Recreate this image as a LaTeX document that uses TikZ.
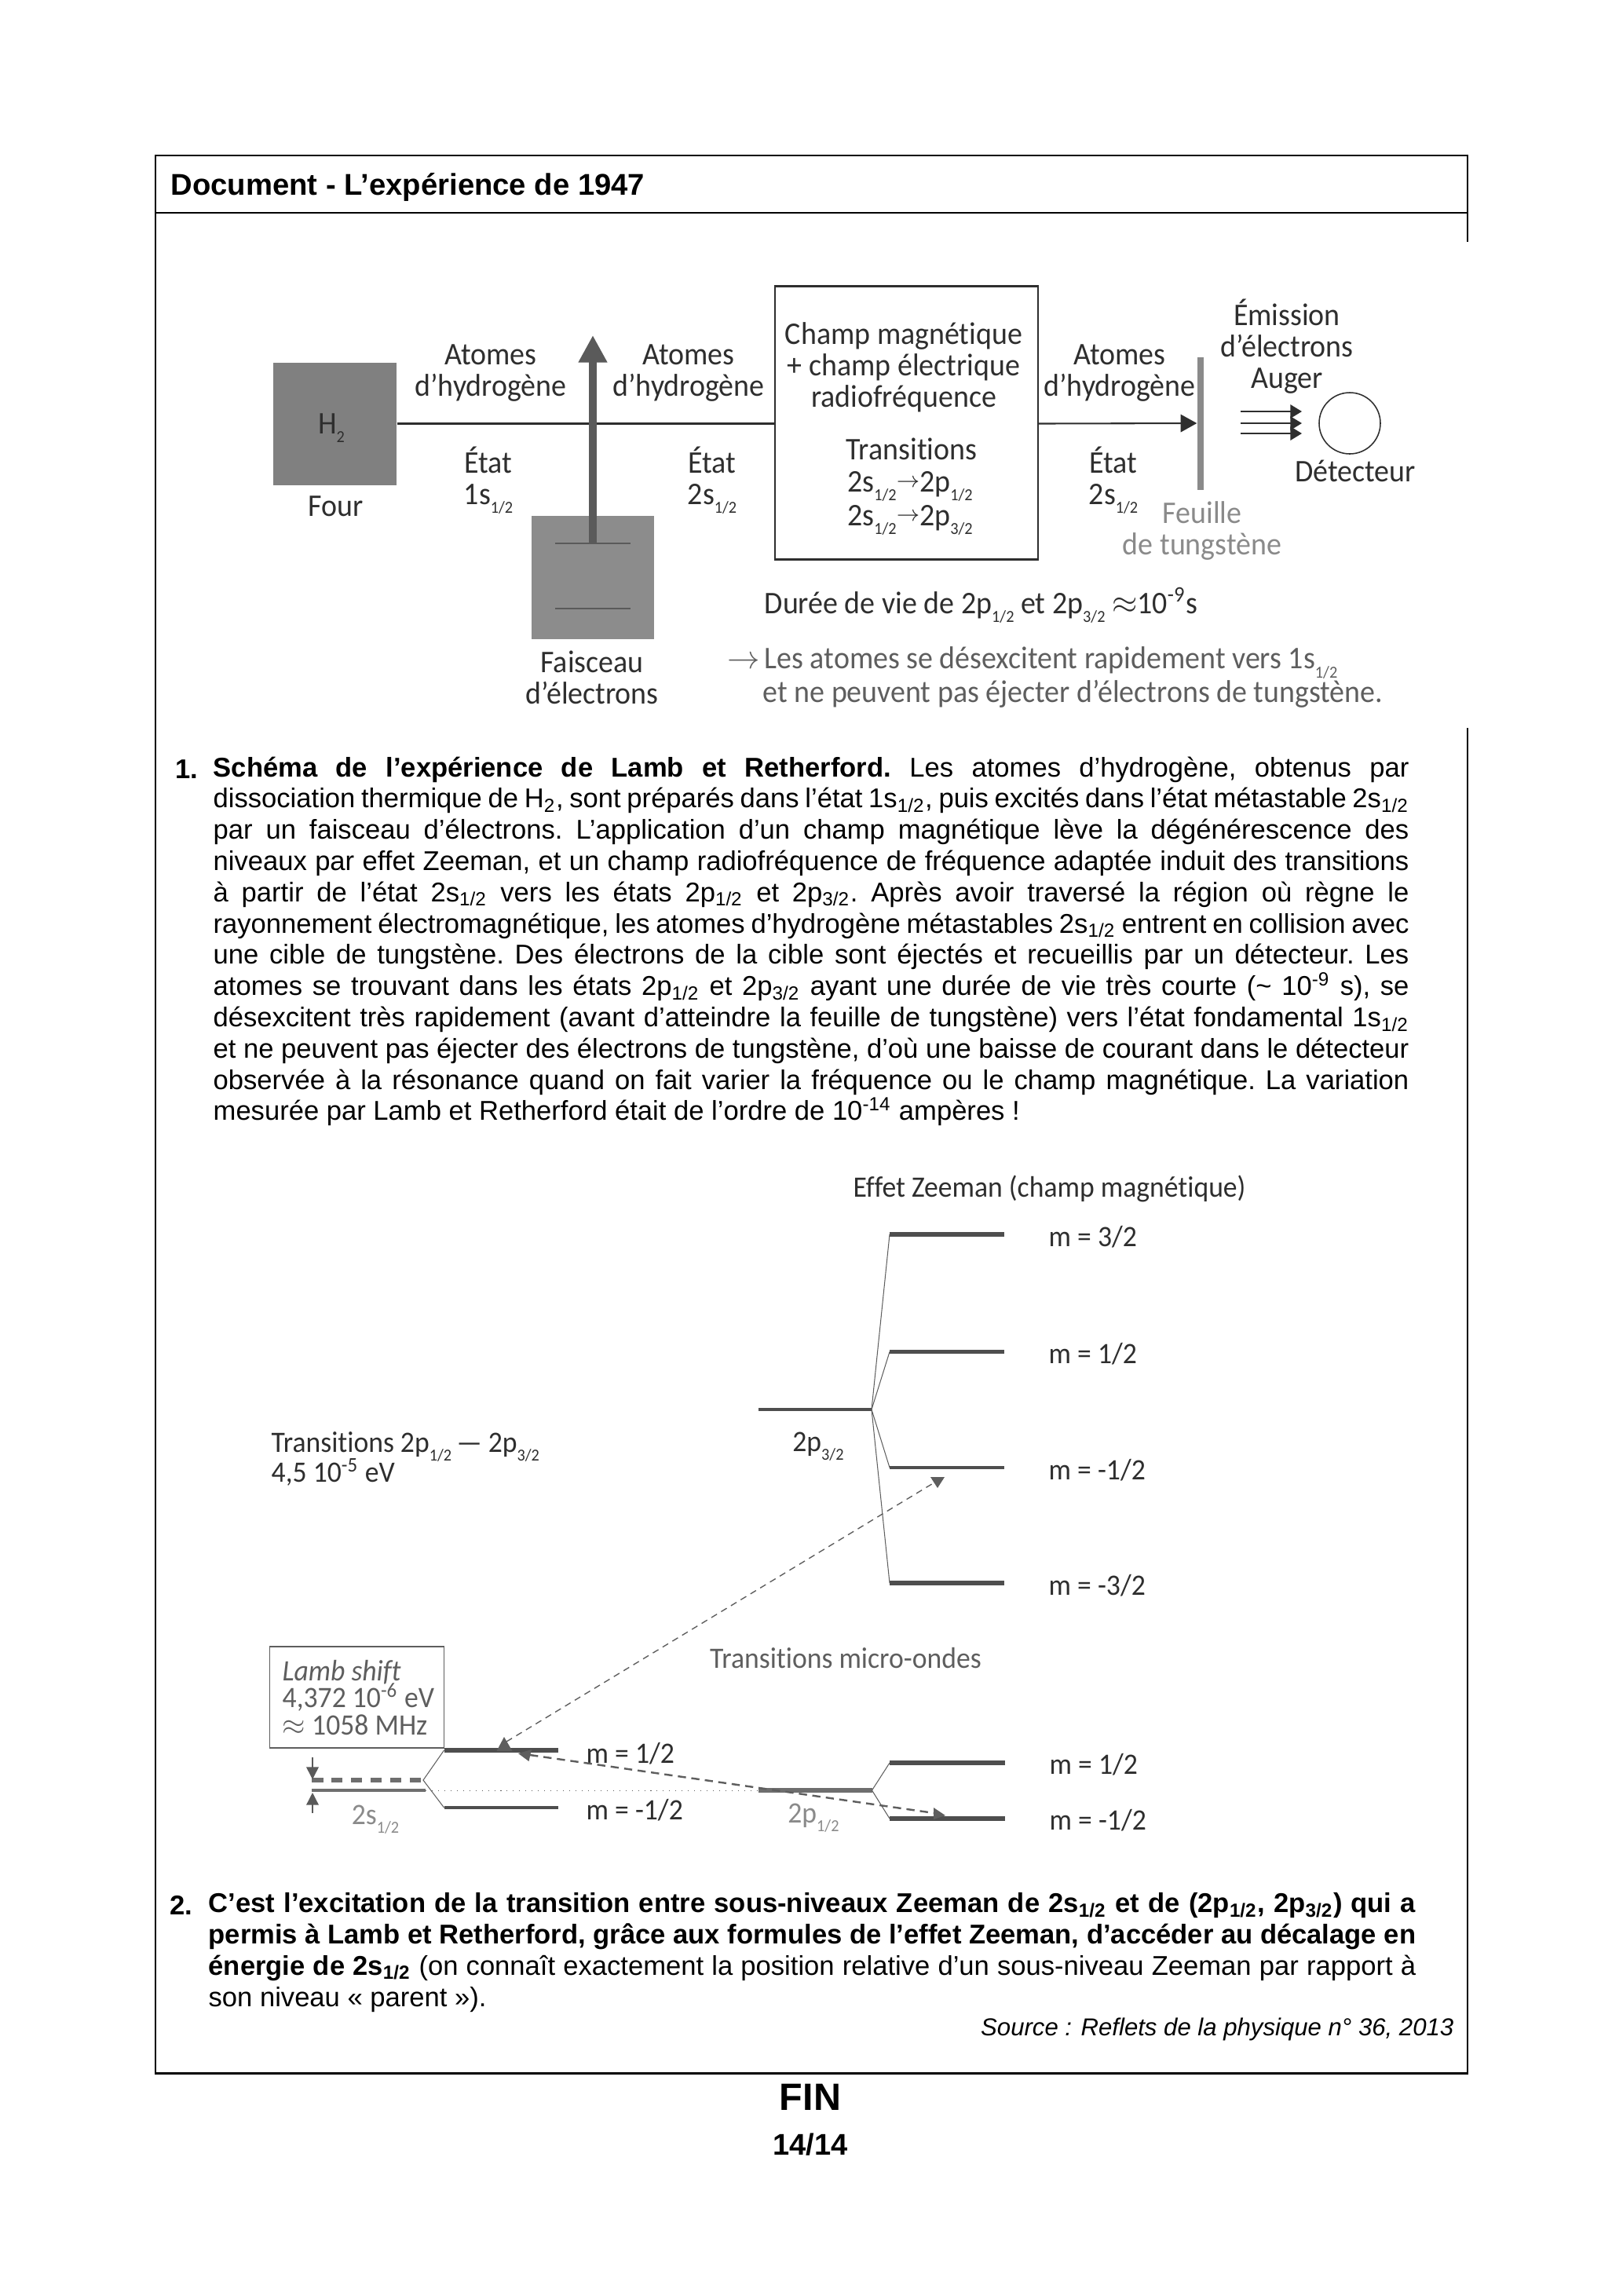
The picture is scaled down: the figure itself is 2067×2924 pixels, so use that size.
\documentclass[tikz,border=0pt]{standalone}
\usepackage{fontspec}
\setmainfont{Liberation Sans}
\newfontfamily\figfont[FakeStretch=0.945,Ligatures=NoCommon]{Carlito}
\usetikzlibrary{arrows.meta}
\definecolor{ink}{HTML}{2E2E2E}
\definecolor{softink}{HTML}{5E5E5E}
\definecolor{paleink}{HTML}{8A8A8A}
\definecolor{ovengray}{HTML}{808080}
\definecolor{beamgray}{HTML}{8C8C8C}
\definecolor{plategray}{HTML}{5A5A5A}
\definecolor{levelgray}{HTML}{4E4E4E}
\newcommand{\pu}{0.1016mm}
\newcommand{\fsb}[1]{\raisebox{-3.2pt}{\fontsize{6.2}{7}\selectfont #1}}
\newcommand{\tsb}[1]{\textsubscript{#1}}
\newcommand{\trarrow}{\raisebox{1.5pt}{$\scriptstyle\rightarrow$}}
\tikzset{
  frameline/.style={draw=black, line width=0.85pt},
  figtxt/.style={font=\figfont\fontsize{11.6}{11.5}\selectfont, text=ink, inner sep=0pt, align=center},
  figgray/.style={figtxt, text=softink},
  figpale/.style={figtxt, text=paleink},
  lowtxt/.style={font=\figfont\fontsize{10.9}{11.5}\selectfont, text=ink, inner sep=0pt, align=center},
  lowgray/.style={lowtxt, text=softink},
  lowpale/.style={lowtxt, text=paleink},
  mlabel/.style={lowtxt, anchor=west},
  para/.style={font=\fontsize{10}{11.5}\selectfont\frenchspacing, inner sep=0pt, anchor=north west, align=justify},
  paranum/.style={font=\bfseries\fontsize{10}{11.5}\selectfont, inner sep=0pt, anchor=north west},
  thinline/.style={draw=ink, line width=0.6pt},
  level/.style={draw=levelgray, line width=1.4pt},
  fanline/.style={draw=softink, line width=0.3pt},
  micro/.style={draw=softink, dash pattern=on 2.4pt off 1.8pt, line width=0.4pt},
  microhead/.style={fill=softink},
}

\begin{document}
\begin{tikzpicture}[x=\pu, y=-\pu]
  \useasboundingbox (0,0) rectangle (2067,2924);

  % cadre du document
  \draw[frameline] (1869,308) -- (1869,198) -- (198,198) -- (198,2640) -- (1869,2640) -- (1869,927);
  \draw[frameline] (198,271) -- (1869,271);
  \node[font=\bfseries\fontsize{11.05}{12}\selectfont, inner sep=0pt, anchor=base west] (title) at (217,248)
      {Document - L’expérience de 1947};

  % schema de l'experience
  \node[fill=ovengray, minimum width=157*\pu, minimum height=156*\pu, inner sep=0pt] (oven) at (426.5,539.5) {};
  \node[fill=beamgray, minimum width=156*\pu, minimum height=157*\pu, inner sep=0pt] (gun) at (755,735.5) {};
  \node[draw=ink, line width=0.6pt, minimum width=335*\pu, minimum height=348*\pu, inner sep=0pt] (field) at (1154.5,538.5) {};
  \node[fill=paleink, minimum width=8*\pu, minimum height=169*\pu, inner sep=0pt] (foil) at (1529,539) {};
  \node[draw=ink, line width=0.45pt, circle, minimum size=78*\pu, inner sep=0pt] (detector) at (1719,539) {};
  \coordinate (plateup) at (755,692);
  \coordinate (platedown) at (755,775);
  \coordinate (beamtip) at (755,427);

  \draw[thinline] (oven.east) -- (oven.east -| field.west);
  \draw[draw=ink, line width=0.6pt, -{Triangle[length=6pt,width=6.5pt]}] (oven.east -| field.east) -- (foil.west);
  \draw[draw=plategray, line width=2.9pt, -{Triangle[length=10pt,width=10pt]}] (plateup) -- (beamtip);
  \draw[draw=plategray, line width=0.8pt] ([xshift=-48*\pu]plateup) -- ([xshift=48*\pu]plateup);
  \draw[draw=plategray, line width=0.5pt] ([xshift=-48*\pu]platedown) -- ([xshift=48*\pu]platedown);
  \foreach \y in {524,539,552}
    \draw[draw=ink, line width=0.5pt, -{Triangle[length=4.2pt,width=5pt]}] (1580,\y) -- (1658,\y);

  \node[figtxt] (htwo) at (422,545) {H\fsb{2}};
  \node[figtxt] (ovenlbl) at (428,645) {Four};
  \node[figtxt] (atomsa) at (625,475) {Atomes\\d’hydrogène};
  \node[figtxt] (atomsb) at (877,475) {Atomes\\d’hydrogène};
  \node[figtxt] (atomsc) at (1426,475) {Atomes\\d’hydrogène};
  \node[figtxt] (statea) at (622,612) {État\\1s\fsb{1/2}};
  \node[figtxt] (stateb) at (907,612) {État\\2s\fsb{1/2}};
  \node[figtxt] (statec) at (1418,612) {État\\2s\fsb{1/2}};
  \node[figtxt] (gunlbl) at (754,863) {Faisceau\\d’électrons};
  \node[figtxt] (fieldlbl) at (1151,468) {Champ magnétique\\+ champ électrique\\radiofréquence};
  \node[figtxt] (translbl) at (1161,572) {Transitions};
  \node[figtxt] (transa) at (1159,619) {2s\fsb{1/2}\trarrow2p\fsb{1/2}};
  \node[figtxt] (transb) at (1159,662) {2s\fsb{1/2}\trarrow2p\fsb{3/2}};
  \node[figpale] (foillbl) at (1531,676) {Feuille\\de tungstène};
  \node[figtxt] (augerlbl) at (1639,441) {Émission\\d’électrons\\Auger};
  \node[figtxt] (detlbl) at (1726,600) {Détecteur};
  \node[figtxt, anchor=west] (lifelbl) at (973,771) {Durée de vie de 2p\fsb{1/2} et 2p\fsb{3/2} $\approx$10\textsuperscript{-9}s};
  \node[figgray, anchor=west] (decaya) at (926,844) {$\rightarrow$\hspace{1.6pt}Les atomes se désexcitent rapidement vers 1s\fsb{1/2}};
  \node[figgray, anchor=west] (decayb) at (971,884) {et ne peuvent pas éjecter d’électrons de tungstène.};

  % texte 1
  \node[paranum] (numa) at (223,967) {1.};
  \node[para, text width=154.7mm] (parta) at (271,963) {\textbf{Schéma de l’expérience de Lamb et Retherford.} Les atomes d’hydrogène, obtenus par\linebreak
    dissociation thermique de H\tsb{2}, sont préparés dans l’état 1s\tsb{1/2}, puis excités dans l’état métastable 2s\tsb{1/2}\linebreak
    par un faisceau d’électrons. L’application d’un champ magnétique lève la dégénérescence des\linebreak
    niveaux par effet Zeeman, et un champ radiofréquence de fréquence adaptée induit des transitions\linebreak
    à partir de l’état 2s\tsb{1/2} vers les états 2p\tsb{1/2} et 2p\tsb{3/2}. Après avoir traversé la région où règne le\linebreak
    rayonnement électromagnétique, les atomes d’hydrogène métastables 2s\tsb{1/2} entrent en collision avec\linebreak
    une cible de tungstène. Des électrons de la cible sont éjectés et recueillis par un détecteur. Les\linebreak
    atomes se trouvant dans les états 2p\tsb{1/2} et 2p\tsb{3/2} ayant une durée de vie très courte (\textasciitilde{} 10\textsuperscript{-9} s), se\linebreak
    désexcitent très rapidement (avant d’atteindre la feuille de tungstène) vers l’état fondamental 1s\tsb{1/2}\linebreak
    et ne peuvent pas éjecter des électrons de tungstène, d’où une baisse de courant dans le détecteur\linebreak
    observée à la résonance quand on fait varier la fréquence ou le champ magnétique. La variation\linebreak
    mesurée par Lamb et Retherford était de l’ordre de 10\textsuperscript{-14} ampères !};

  % niveaux 2p3/2
  \node[lowtxt, anchor=west] (zeemanlbl) at (1086,1514) {Effet Zeeman (champ magnétique)};
  \coordinate (pthree) at (1110,1795);
  \draw[level, line width=0.9pt] (966,1795) -- (pthree);
  \foreach \y/\th/\m in {1572/1.7pt/3{/}2, 1721.5/1.3pt/1{/}2, 1869/1.3pt/-1{/}2, 2016/2pt/-3{/}2}{
    \draw[fanline] (pthree) -- (1133,\y);
    \draw[level, line width=\th] (1133,\y) -- (1279,\y);
    \node[mlabel] at (1335,\y+3) {m = \m};
  }
  \node[lowtxt] (pthreelbl) at (1042,1842) {2p\fsb{3/2}};

  % niveaux 2s et 2p1/2
  \node[lowtxt, anchor=west] (translabel) at (345,1842) {Transitions 2p\fsb{1/2}\,— 2p\fsb{3/2}};
  \node[lowtxt, anchor=west] (ev) at (345,1875) {4,5 10\textsuperscript{-5} eV};
  \node[lowgray] (microlbl) at (1077,2112) {Transitions micro-ondes};

  \node[draw=softink, line width=0.5pt, minimum width=222*\pu, minimum height=129*\pu, inner sep=0pt] (lambbox) at (454.5,2161.5) {};
  \node[lowgray, align=left, anchor=west] (lambtxt) at (359,2162) {\textit{Lamb shift}\\[-1.5pt]4,372 10\textsuperscript{-6} eV\\[-1.5pt]$\approx$ 1058 MHz};

  \coordinate (sdash) at (539,2267);
  \coordinate (ssolid) at (542,2280);
  \coordinate (sup) at (565.5,2229);
  \coordinate (sdown) at (565.5,2302);
  \coordinate (pone) at (1110.5,2280);
  \draw[draw=softink, line width=0.3pt, dotted] (ssolid) -- (966,2280);
  \draw[fanline] (sup) -- (sdash) -- (sdown);
  \draw[draw=paleink!80!black, line width=1.6pt, dash pattern=on 4.2pt off 3pt] (397,2267) -- (sdash);
  \draw[draw=paleink!80!black, line width=1.4pt] (397,2280) -- (ssolid);
  \draw[level, line width=1.7pt] (sup) -- (711,2229);
  \draw[level] (sdown) -- (711,2302);
  \draw[draw=paleink!80!black, line width=1.7pt] (966,2280) -- (pone);
  \draw[fanline] (pone) -- (1133,2245);
  \draw[fanline] (pone) -- (1133,2316);
  \foreach \y in {2245,2316}
    \draw[level, line width=1.7pt] (1133,\y) -- (1280,\y);
  \draw[draw=plategray, line width=0.4pt, -{Triangle[length=4.5pt,width=4.5pt]}] (398,2238) -- (398,2266);
  \draw[draw=plategray, line width=0.4pt, -{Triangle[length=4.5pt,width=4.5pt]}] (398,2309) -- (398,2283);

  \node[lowpale] (stwolbl) at (478,2317) {2s\fsb{1/2}};
  \node[lowpale] (ponelbl) at (1036,2315) {2p\fsb{1/2}};
  \node[mlabel] at (746,2233) {m = 1/2};
  \node[mlabel] at (746,2305) {m = -1/2};
  \node[mlabel] at (1336,2247) {m = 1/2};
  \node[mlabel] at (1336,2318) {m = -1/2};

  \coordinate (microa) at (645,2218);
  \coordinate (microb) at (1190,1888);
  \coordinate (microc) at (675,2235);
  \coordinate (microd) at (1190,2309);
  \draw[micro] (microa) -- (microb);
  \draw[micro, line width=0.7pt, dash pattern=on 3pt off 2pt] (microc) -- (microd);
  \fill[microhead] (1185,1881) -- (1203,1881) -- (1194,1895) -- cycle;
  \fill[microhead] (632.5,2230) -- (652.5,2230) -- (642,2212) -- cycle;
  \fill[microhead] (660,2233) -- (677,2228) -- (673.5,2243) -- cycle;
  \fill[microhead] (1189,2302) -- (1204,2312) -- (1189,2317) -- cycle;

  % texte 2
  \node[paranum] (numb) at (216,2414) {2.};
  \node[para, text width=156.2mm] (partb) at (265,2410) {\textbf{C’est l’excitation de la transition entre sous-niveaux Zeeman de 2s\tsb{1/2} et de (2p\tsb{1/2}, 2p\tsb{3/2}) qui a}\linebreak
    \textbf{permis à Lamb et Retherford, grâce aux formules de l’effet Zeeman, d’accéder au décalage en}\linebreak
    \textbf{énergie de 2s\tsb{1/2}} (on connaît exactement la position relative d’un sous-niveau Zeeman par rapport à\linebreak
    son niveau «~parent~»).};
  \node[font=\itshape\fontsize{9}{11}\selectfont, inner sep=0pt, anchor=east] (source) at (1852,2584) {Source : Reflets de la physique n° 36, 2013};

  \node[font=\bfseries\fontsize{14}{14}\selectfont, inner sep=0pt] (fin) at (1032,2671) {FIN};
  \node[font=\bfseries\fontsize{11}{12}\selectfont, inner sep=0pt] (folio) at (1032,2731) {14/14};
\end{tikzpicture}
\end{document}
